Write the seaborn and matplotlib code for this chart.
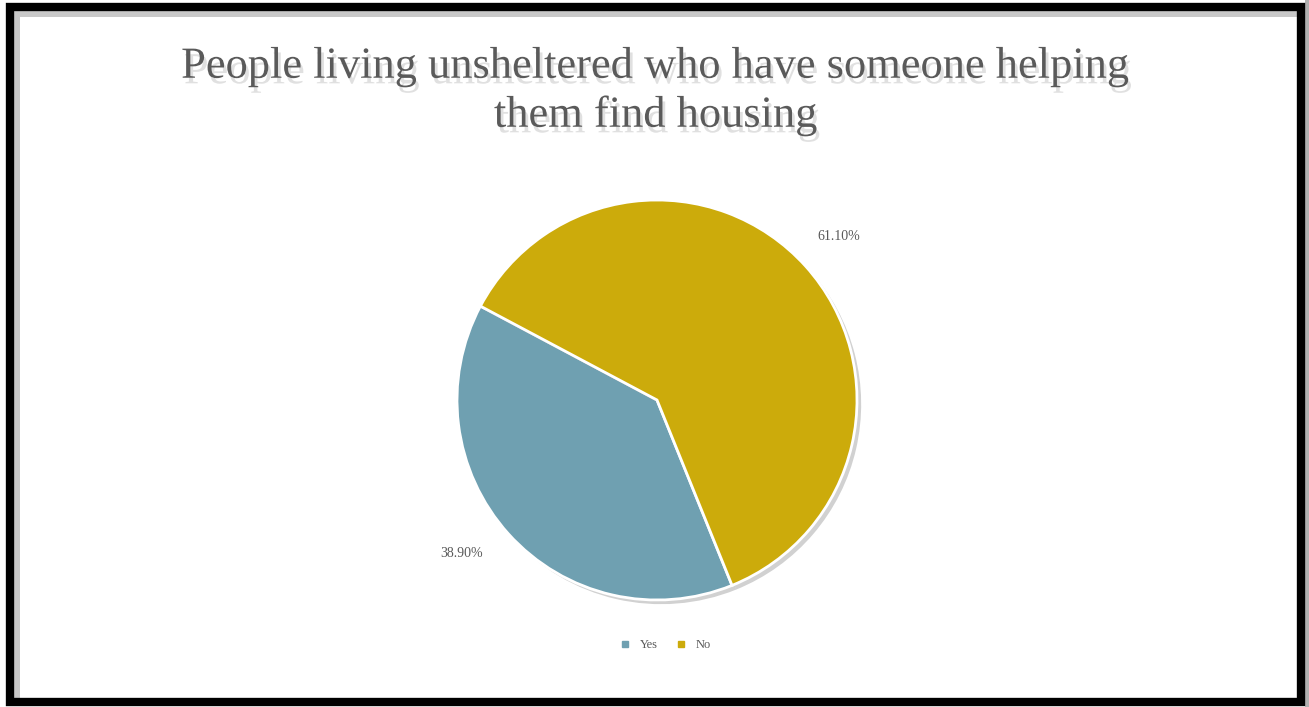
import matplotlib
matplotlib.use("Agg")
import matplotlib.pyplot as plt
import matplotlib.patheffects as pe
from matplotlib.patches import Rectangle
from matplotlib.lines import Line2D
import seaborn as sns

categories = ["Yes", "No"]
values = [38.9, 61.1]
pct_labels = ["38.90%", "61.10%"]
title_text = "People living unsheltered who have someone helping\nthem find housing"

sns.set_theme(style="white")
plt.rcParams['font.family'] = ['Liberation Serif', 'DejaVu Serif']

colors = ["#6fa0b1", "#ccab0b"]

W, H = 1309, 707
fig = plt.figure(figsize=(W / 100, H / 100), dpi=100)
fig.patch.set_facecolor("white")

# frame: light inner strip at top and left, black border, grey outer strip right
fig.patches.append(Rectangle((13 / W, 7 / H), 7 / W, (697 - 7) / H, transform=fig.transFigure,
                             facecolor="#c8c8c8", edgecolor="none", zorder=-3))
fig.patches.append(Rectangle((13 / W, 1 - 17 / H), (1298 - 13) / W, 10 / H, transform=fig.transFigure,
                             facecolor="#c8c8c8", edgecolor="none", zorder=-3))
fig.patches.append(Rectangle((10 / W, 5 / H), (1301 - 10) / W, (700 - 5) / H,
                             transform=fig.transFigure, facecolor="none", edgecolor="black",
                             linewidth=6, zorder=5))
fig.patches.append(Rectangle((1305 / W, 0), 4 / W, 1, transform=fig.transFigure,
                             facecolor="#b0b0b0", edgecolor="none", zorder=4))

cx, cy, r = 657, 400, 200
ax = fig.add_axes([(cx - r) / W, (H - cy - r) / H, 2 * r / W, 2 * r / H])
wedges, texts = ax.pie(values, colors=colors, startangle=152, counterclock=True,
                       labels=pct_labels, labeldistance=1.22,
                       wedgeprops=dict(edgecolor="white", linewidth=2),
                       textprops=dict(fontsize=10, color="#595959"))
for w in wedges:
    w.set_path_effects([pe.SimplePatchShadow(offset=(3, -3), shadow_rgbFace="#999999", alpha=0.45),
                        pe.Normal()])
for t in texts:
    t.set_ha("center")
    t.set_va("center")
texts[0].set_position((texts[0].get_position()[0] - 0.07, texts[0].get_position()[1] + 0.05))
ax.set_xlim(-1, 1)
ax.set_ylim(-1, 1)
ax.axis("off")

fig.text(656 / W, 1 - 91 / H, title_text, ha="center", va="center", fontsize=32,
         color="#5a5a5a", linespacing=1.27,
         path_effects=[pe.withSimplePatchShadow(offset=(2, -4), shadow_rgbFace="#9a9a9a", alpha=0.3)])

handles = [Line2D([0], [0], marker="s", linestyle="none", markersize=4,
                  markerfacecolor=c, markeredgecolor=c) for c in colors]
fig.legend(handles, categories, loc="center", bbox_to_anchor=(662 / W, 1 - 645 / H), ncol=2,
           frameon=False, fontsize=9, handletextpad=0.2, columnspacing=0.8,
           labelcolor="#595959")

fig.savefig("out.png", dpi=100)
